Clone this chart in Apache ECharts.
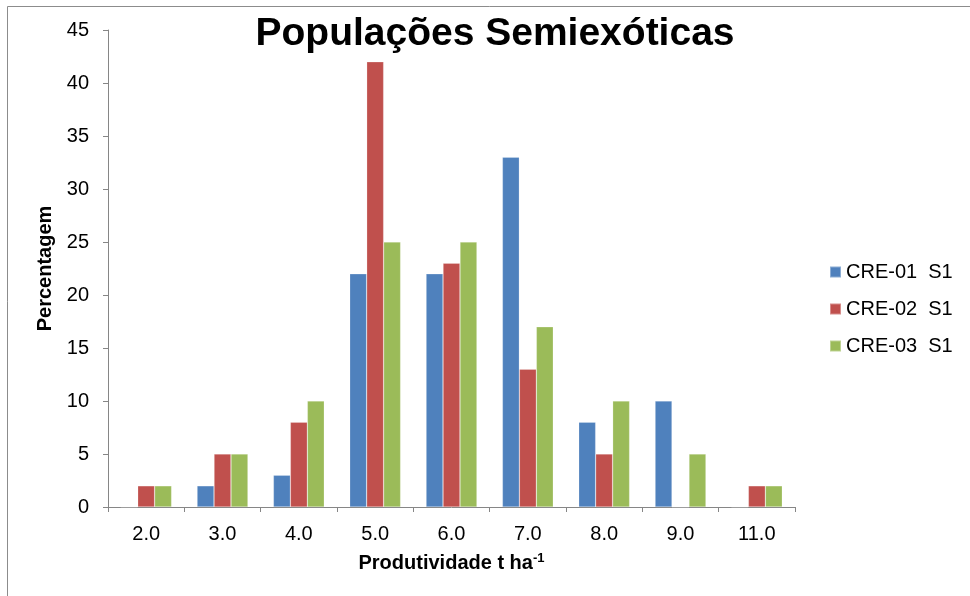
<!DOCTYPE html>
<html>
<head>
<meta charset="utf-8">
<script src="https://cdn.jsdelivr.net/npm/echarts@6/dist/echarts.min.js"></script>
<style>
  html, body { margin: 0; padding: 0; background: #fff; }
  #chart { width: 970px; height: 596px; }
</style>
</head>
<body>
<div id="chart"></div>
<script>
// Productivity classes (t/ha)
const categories = ['2.0', '3.0', '4.0', '5.0', '6.0', '7.0', '8.0', '9.0', '11.0'];

// Percentage of plants per class, by population
const cre01 = [0, 2, 3, 22, 22, 33, 8, 10, 0];
const cre02 = [2, 5, 8, 42, 23, 13, 5, 0, 2];
const cre03 = [2, 5, 10, 25, 25, 17, 10, 5, 2];

const seriesNames = ['CRE-01  S1', 'CRE-02  S1', 'CRE-03  S1'];
const seriesColors = ['#4F81BD', '#C0504D', '#9BBB59'];
const seriesData = [cre01, cre02, cre03];

const font = '"Liberation Sans", Arial, Helvetica, sans-serif';
const axisGray = '#868686';

const chart = echarts.init(document.getElementById('chart'), null, { renderer: 'canvas' });

chart.setOption({
  animation: false,
  backgroundColor: '#ffffff',
  textStyle: { fontFamily: font },
  graphic: [
    {
      type: 'rect',
      shape: { x: 7.5, y: 6.5, width: 1000, height: 1000 },
      style: { fill: 'none', stroke: '#8c8c8c', lineWidth: 1 },
      silent: true
    },
    {
      type: 'text',
      x: 495,
      y: 34,
      style: {
        text: 'Populações Semiexóticas',
        font: 'bold 39px ' + font,
        fill: '#000',
        textAlign: 'center',
        textVerticalAlign: 'middle'
      }
    }
  ],
  grid: { left: 108, right: 175, top: 30, bottom: 89, containLabel: false },
  legend: {
    orient: 'vertical',
    left: 824,
    top: 257,
    itemWidth: 11,
    itemHeight: 11,
    itemGap: 17,
    icon: 'rect',
    textStyle: { fontFamily: font, fontSize: 20, color: '#000' },
    data: seriesNames
  },
  xAxis: {
    type: 'category',
    data: categories,
    name: 'Produtividade t ha{sup|-1}',
    nameLocation: 'middle',
    nameGap: 45,
    nameTextStyle: {
      fontFamily: font, fontSize: 20, fontWeight: 'bold', color: '#000',
      rich: { sup: { fontFamily: font, fontSize: 13, fontWeight: 'bold', color: '#000', verticalAlign: 'top', padding: [0, 0, 9, 0] } }
    },
    axisLine: { lineStyle: { color: axisGray, width: 1 } },
    axisTick: { show: true, inside: false, length: 5, lineStyle: { color: axisGray } },
    axisLabel: { fontFamily: font, fontSize: 20, color: '#000', margin: 17 },
    splitLine: { show: false }
  },
  yAxis: {
    type: 'value',
    min: 0,
    max: 45,
    interval: 5,
    name: 'Percentagem',
    nameLocation: 'middle',
    nameGap: 48,
    nameRotate: 90,
    nameTextStyle: { fontFamily: font, fontSize: 20, fontWeight: 'bold', color: '#000' },
    axisLine: { show: true, lineStyle: { color: axisGray, width: 1 } },
    axisTick: { show: true, inside: false, length: 5, lineStyle: { color: axisGray } },
    axisLabel: { fontFamily: font, fontSize: 20, color: '#000', margin: 19 },
    splitLine: { show: false }
  },
  series: seriesData.map((d, i) => ({
    name: seriesNames[i],
    type: 'bar',
    data: d,
    barGap: '0%',
    barCategoryGap: '33.3%',
    itemStyle: { color: seriesColors[i], borderColor: 'rgba(255,255,255,0.35)', borderWidth: 0.6 }
  }))
});
</script>
</body>
</html>
